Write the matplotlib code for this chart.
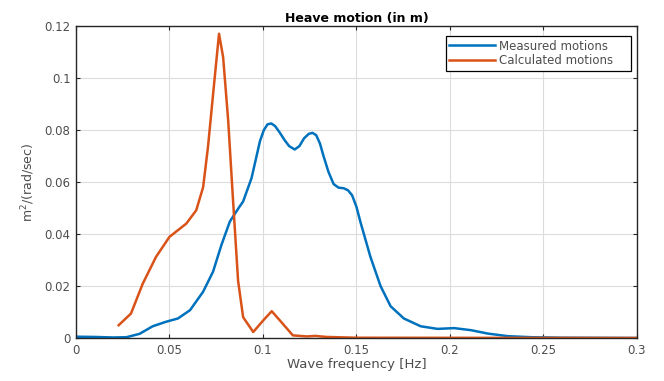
import numpy as np
import matplotlib.pyplot as plt

# Datos
f_meas = [0, 0.01, 0.02, 0.027, 0.034, 0.041, 0.048, 0.0545, 0.061, 0.068,
          0.0733, 0.0778, 0.0823, 0.087, 0.0894, 0.0939, 0.0984, 0.1005, 0.1025,
          0.1045, 0.1065, 0.109, 0.1115, 0.114, 0.117, 0.1195, 0.122, 0.1245,
          0.1265, 0.1285, 0.1305, 0.1324, 0.135, 0.1378, 0.1405, 0.1432, 0.1455,
          0.1477, 0.1500, 0.1522, 0.1575, 0.1629, 0.1683, 0.1754, 0.1844, 0.1934,
          0.2023, 0.2113, 0.2203, 0.231, 0.2435, 0.26, 0.3]
s_meas = [0.0005, 0.0004, 0.0002, 0.0003, 0.0016, 0.0045, 0.0062, 0.0075, 0.0107, 0.0178,
          0.0255, 0.0358, 0.0448, 0.0500, 0.0525, 0.0615, 0.0757, 0.0800, 0.0822,
          0.0825, 0.0815, 0.0790, 0.0762, 0.0738, 0.0725, 0.0738, 0.0768, 0.0785,
          0.0789, 0.0780, 0.0748, 0.0700, 0.0640, 0.0592, 0.0578, 0.0576, 0.0568,
          0.0549, 0.0505, 0.0445, 0.0312, 0.0200, 0.0122, 0.0075, 0.0045, 0.0035,
          0.0038, 0.0030, 0.0017, 0.0007, 0.0003, 0.0001, 0]

f_calc = [0.0228, 0.0294, 0.0357, 0.0428, 0.05, 0.059, 0.0643, 0.068, 0.0706,
          0.0737, 0.0765, 0.0787, 0.0814, 0.084, 0.0867, 0.0894, 0.0948, 0.1002,
          0.1047, 0.109, 0.116, 0.1235, 0.128, 0.134, 0.15, 0.3]
s_calc = [0.0049, 0.0094, 0.0209, 0.0312, 0.0389, 0.044, 0.0491, 0.058, 0.0735,
          0.0965, 0.117, 0.108, 0.0837, 0.053, 0.022, 0.008, 0.0023, 0.0068,
          0.0103, 0.0068, 0.001, 0.0006, 0.0008, 0.0004, 0.0001, 0]

plt.rcParams['font.family'] = ['DejaVu Sans']
tc = '#262626'

fig = plt.figure(figsize=(6.64, 3.81), dpi=100)
ax = fig.add_axes([0.1145, 0.1129, 0.8445, 0.8189])

ax.plot(f_meas, s_meas, color='#0072BD', lw=1.8, label='Measured motions')
ax.plot(f_calc, s_calc, color='#D95319', lw=1.8, label='Calculated motions')

ax.set_xlim(0, 0.3)
ax.set_ylim(0, 0.12)
ax.set_xticks(np.arange(0, 0.31, 0.05))
ax.set_yticks(np.arange(0, 0.121, 0.02))
ax.set_xticklabels(['0', '0.05', '0.1', '0.15', '0.2', '0.25', '0.3'])
ax.set_yticklabels(['0', '0.02', '0.04', '0.06', '0.08', '0.1', '0.12'])
ax.tick_params(direction='in', length=3, width=0.8, top=True, right=True,
               labelsize=8.5, colors=tc, labelcolor='#4d4d4d', pad=4)
ax.grid(True, color='#dcdcdc', lw=0.8)
for s in ax.spines.values():
    s.set_color(tc)
    s.set_linewidth(1.0)

ax.set_xlabel('Wave frequency [Hz]', fontsize=9.5, color='#4d4d4d', labelpad=1)
ax.set_ylabel('m$^2$/(rad/sec)', fontsize=9, color='#4d4d4d', labelpad=5)
ax.set_title('Heave motion (in m)', fontsize=9, fontweight='bold', color='#000000', pad=3)

# Leyenda tipo MATLAB, con espacio extra a la derecha
leg = ax.legend(loc='upper left', fontsize=8.5, fancybox=False, framealpha=1,
                edgecolor='black', bbox_to_anchor=(0.6595, 0.862, 0.3298, 0.106),
                mode='expand', borderaxespad=0, handlelength=3.9,
                handletextpad=0.3, borderpad=0.3, labelspacing=0.15)
leg.get_frame().set_linewidth(0.9)
for t in leg.get_texts():
    t.set_color('#4d4d4d')

fig.savefig('out.png', dpi=100)
